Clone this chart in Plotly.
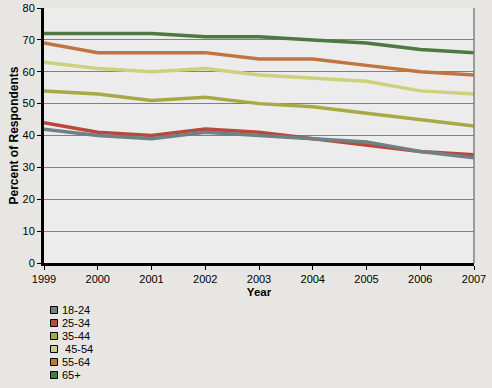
import plotly.graph_objects as go

years = [1999, 2000, 2001, 2002, 2003, 2004, 2005, 2006, 2007]
series_names = ["18-24", "25-34", "35-44", " 45-54", "55-64", "65+"]
v_18_24 = [42, 40, 39, 41, 40, 39, 38, 35, 33]
v_25_34 = [44, 41, 40, 42, 41, 39, 37, 35, 34]
v_35_44 = [54, 53, 51, 52, 50, 49, 47, 45, 43]
v_45_54 = [63, 61, 60, 61, 59, 58, 57, 54, 53]
v_55_64 = [69, 66, 66, 66, 64, 64, 62, 60, 59]
v_65p = [72, 72, 72, 71, 71, 70, 69, 67, 66]
colors = ["#6e8185", "#b8483a", "#a7aa44", "#cdd07c", "#c07442", "#4e7842"]
series_values = [v_18_24, v_25_34, v_35_44, v_45_54, v_55_64, v_65p]

fig = go.Figure()
order = [5, 4, 3, 2, 1, 0]
for i in order:
    fig.add_trace(go.Scatter(x=years, y=series_values[i], mode="lines",
                             line=dict(color=colors[i], width=3.5),
                             name=series_names[i], showlegend=False))

W, H = 492, 388
ml, mr, mt, mb = 44, 18, 8, 125
pw, ph = W - ml - mr, H - mt - mb
def px_to_paper(x, y):
    return (x - ml) / pw, (H - mb - y) / ph

for k, (name, col) in enumerate(zip(series_names, colors)):
    cy = 310 + 13 * k
    x0, y0 = px_to_paper(50.5, cy - 3.5)
    x1, y1 = px_to_paper(57.5, cy + 3.5)
    fig.add_shape(type="rect", xref="paper", yref="paper", x0=x0, x1=x1, y0=y1, y1=y0,
                  fillcolor=col, line=dict(color="black", width=1))
    tx, ty = px_to_paper(61, cy)
    fig.add_annotation(xref="paper", yref="paper", x=tx, y=ty, text=name, showarrow=False,
                       xanchor="left", yanchor="middle", borderpad=0,
                       font=dict(family="Liberation Sans, Arial", size=11, color="black"))

fig.add_shape(type="line", xref="paper", yref="paper", x0=1, x1=1, y0=0, y1=1,
              line=dict(color="#808080", width=1.5))

fig.update_layout(
    width=W, height=H,
    margin=dict(l=ml, r=mr, t=mt, b=mb, autoexpand=False),
    paper_bgcolor="#e7e6e2",
    plot_bgcolor="#ececec",
    showlegend=False,
    font=dict(family="Liberation Sans, Arial", size=12, color="black"),
)
fig.update_xaxes(range=[1999, 2007], tickvals=years, ticktext=[str(y) for y in years],
                 showgrid=False, zeroline=False, showline=True, linecolor="black", linewidth=3,
                 ticks="outside", ticklen=4, tickcolor="black", tickwidth=1, automargin=False,
                 title=dict(text="<b>Year</b>", font=dict(size=11.5), standoff=4),
                 tickfont=dict(size=11))
fig.update_yaxes(range=[0, 80], tickvals=list(range(0, 81, 10)),
                 showgrid=True, gridcolor="#808080", gridwidth=1, zeroline=False,
                 showline=True, linecolor="black", linewidth=3, automargin=False,
                 ticks="outside", ticklen=4, tickcolor="black", tickwidth=1,
                 title=dict(text="<b>Percent of Respondents</b>", font=dict(size=12), standoff=2),
                 tickfont=dict(size=11))

fig.write_html("out.html", config={"displayModeBar": False},
               post_script="document.body.style.margin='0';document.body.style.background='#e7e6e2';")
